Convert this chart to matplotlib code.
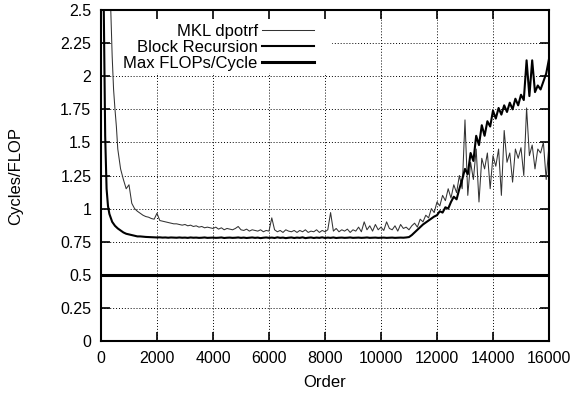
import numpy as np
import matplotlib.pyplot as plt
from matplotlib.patches import Rectangle

plt.rcParams['font.family'] = ['Liberation Sans', 'DejaVu Sans']

# matrix order (x axis)
order = [25, 50, 75, 100, 150, 200, 250, 300, 350, 400, 450, 500, 550, 600, 700, 800, 900] \
    + list(range(1000, 16001, 100))

# cycles per flop, MKL dpotrf
mkl = [10.0, 8.0, 7.0, 6.0, 4.5, 3.6, 3.2, 2.9, 2.5, 2.15, 1.9, 1.75, 1.62, 1.45, 1.3, 1.22, 1.15,
       1.18, 1.04, 1.00, 0.98, 0.965, 0.95, 0.94, 0.935, 0.925, 0.92,
       0.965, 0.91, 0.905, 0.90, 0.895, 0.89, 0.885, 0.885, 0.88, 0.875,
       0.88, 0.87, 0.875, 0.865, 0.87, 0.86, 0.865, 0.855, 0.86, 0.855,
       0.85, 0.86, 0.845, 0.855, 0.84, 0.85, 0.845, 0.84, 0.85, 0.865,
       0.84, 0.835, 0.845, 0.83, 0.84, 0.835, 0.83, 0.84, 0.825, 0.835,
       0.83, 0.93, 0.84, 0.825, 0.835, 0.82, 0.84, 0.83, 0.825, 0.835,
       0.82, 0.835, 0.825, 0.84, 0.82, 0.83, 0.825, 0.84, 0.82, 0.835,
       0.825, 0.84, 0.97, 0.83, 0.85, 0.825, 0.84, 0.83, 0.845, 0.82,
       0.84, 0.83, 0.86, 0.825, 0.90, 0.84, 0.87, 0.83, 0.88, 0.84,
       0.86, 0.835, 0.90, 0.85, 0.84, 0.87, 0.83, 0.88, 0.85, 0.86,
       0.84, 0.87, 0.89, 0.86, 0.92, 0.90, 0.95, 0.93, 1.00, 0.97,
       1.05, 1.02, 1.10, 1.06, 1.15, 1.08, 1.18, 1.12, 1.25, 1.15,
       1.67, 1.10, 1.35, 1.22, 1.45, 1.05, 1.38, 1.30, 1.42, 1.15,
       1.40, 1.32, 1.45, 1.10, 1.59, 1.35, 1.42, 1.20, 1.45, 1.38,
       1.46, 1.25, 1.76, 1.40, 1.48, 1.30, 1.45, 1.42, 1.50, 1.22,
       1.48]

# cycles per flop, block recursion
block = [9.0, 4.5, 3.0, 2.5, 1.55, 1.15, 1.02, 0.96, 0.93, 0.90, 0.885, 0.87, 0.86, 0.85, 0.835, 0.82, 0.81,
         0.805, 0.80, 0.795, 0.79, 0.79, 0.788, 0.786, 0.785, 0.784, 0.783,
         0.782, 0.783, 0.781, 0.782, 0.780, 0.782, 0.781, 0.780, 0.782, 0.780,
         0.781, 0.779, 0.782, 0.780, 0.781, 0.779, 0.780, 0.782, 0.779, 0.780,
         0.781, 0.779, 0.780, 0.782, 0.778, 0.780, 0.781, 0.779, 0.780, 0.782,
         0.779, 0.781, 0.778, 0.780, 0.782, 0.779, 0.781, 0.777, 0.780, 0.782,
         0.779, 0.781, 0.778, 0.783, 0.779, 0.781, 0.777, 0.780, 0.782, 0.778,
         0.781, 0.779, 0.783, 0.777, 0.780, 0.782, 0.778, 0.781, 0.779, 0.783,
         0.778, 0.781, 0.779, 0.782, 0.778, 0.780, 0.781, 0.779, 0.780, 0.782,
         0.779, 0.780, 0.781, 0.779, 0.780, 0.782, 0.779, 0.780, 0.781, 0.779,
         0.780, 0.781, 0.779, 0.780, 0.781, 0.779, 0.780, 0.781, 0.780, 0.782,
         0.785, 0.80, 0.82, 0.84, 0.86, 0.88, 0.895, 0.91, 0.925, 0.94,
         0.95, 0.98, 0.97, 1.01, 1.00, 1.05, 1.09, 1.07, 1.15, 1.22,
         1.30, 1.26, 1.42, 1.36, 1.55, 1.48, 1.63, 1.55, 1.66, 1.62,
         1.74, 1.68, 1.76, 1.71, 1.78, 1.73, 1.80, 1.75, 1.83, 1.78,
         1.86, 1.82, 2.12, 1.85, 2.12, 1.88, 1.93, 1.90, 1.96, 2.02,
         2.13]

peak = 0.5  # max FLOPs/cycle bound

xticks = [0, 2000, 4000, 6000, 8000, 10000, 12000, 14000, 16000]
yticks = [0, 0.25, 0.5, 0.75, 1, 1.25, 1.5, 1.75, 2, 2.25, 2.5]
ylabels = ['0', '0.25', '0.5', '0.75', '1', '1.25', '1.5', '1.75', '2', '2.25', '2.5']

fig = plt.figure(figsize=(5.81, 3.96), dpi=100)
ax = fig.add_axes([0.1738, 0.1389, 0.7711, 0.8358])

# dotted grid, blanked behind the key like gnuplot does
for x in xticks[1:-1]:
    ax.axvline(x, color='k', lw=0.7, ls=(0, (1, 2)), zorder=0.3)
for y in yticks[1:-1]:
    ax.axhline(y, color='k', lw=0.7, ls=(0, (1, 2)), zorder=0.3)
ax.add_patch(Rectangle((0.025, 0.813), 0.488, 0.19, transform=ax.transAxes,
                       color='white', zorder=0.6))
ax.set_axisbelow('line')

ax.plot(order, mkl, color='#333333', lw=0.75, label='MKL dpotrf', zorder=2)
ax.plot(order, block, color='black', lw=1.5, label='Block Recursion', zorder=2.1)
ax.axhline(peak, color='black', lw=2.2, label='Max FLOPs/Cycle', zorder=2.2)

ax.set_xlim(0, 16000)
ax.set_ylim(0, 2.5)
ax.set_xticks(xticks)
ax.set_yticks(yticks)
ax.set_yticklabels(ylabels)
ax.tick_params(direction='in', length=6.5, width=1.2, top=True, right=True,
               labelsize=11.5, pad=7)
for s in ax.spines.values():
    s.set_linewidth(1.5)

ax.set_xlabel('Order', fontsize=12, labelpad=7)
ax.set_ylabel('Cycles/FLOP', fontsize=12)
ax.yaxis.set_label_coords(-0.174, 0.5)

ax.legend(loc='upper right', bbox_to_anchor=(0.493, 0.983), frameon=False,
          markerfirst=False, borderpad=0, handlelength=3.1, handletextpad=0.25,
          labelspacing=0.05, fontsize=12)

plt.savefig('out.png', dpi=100)
